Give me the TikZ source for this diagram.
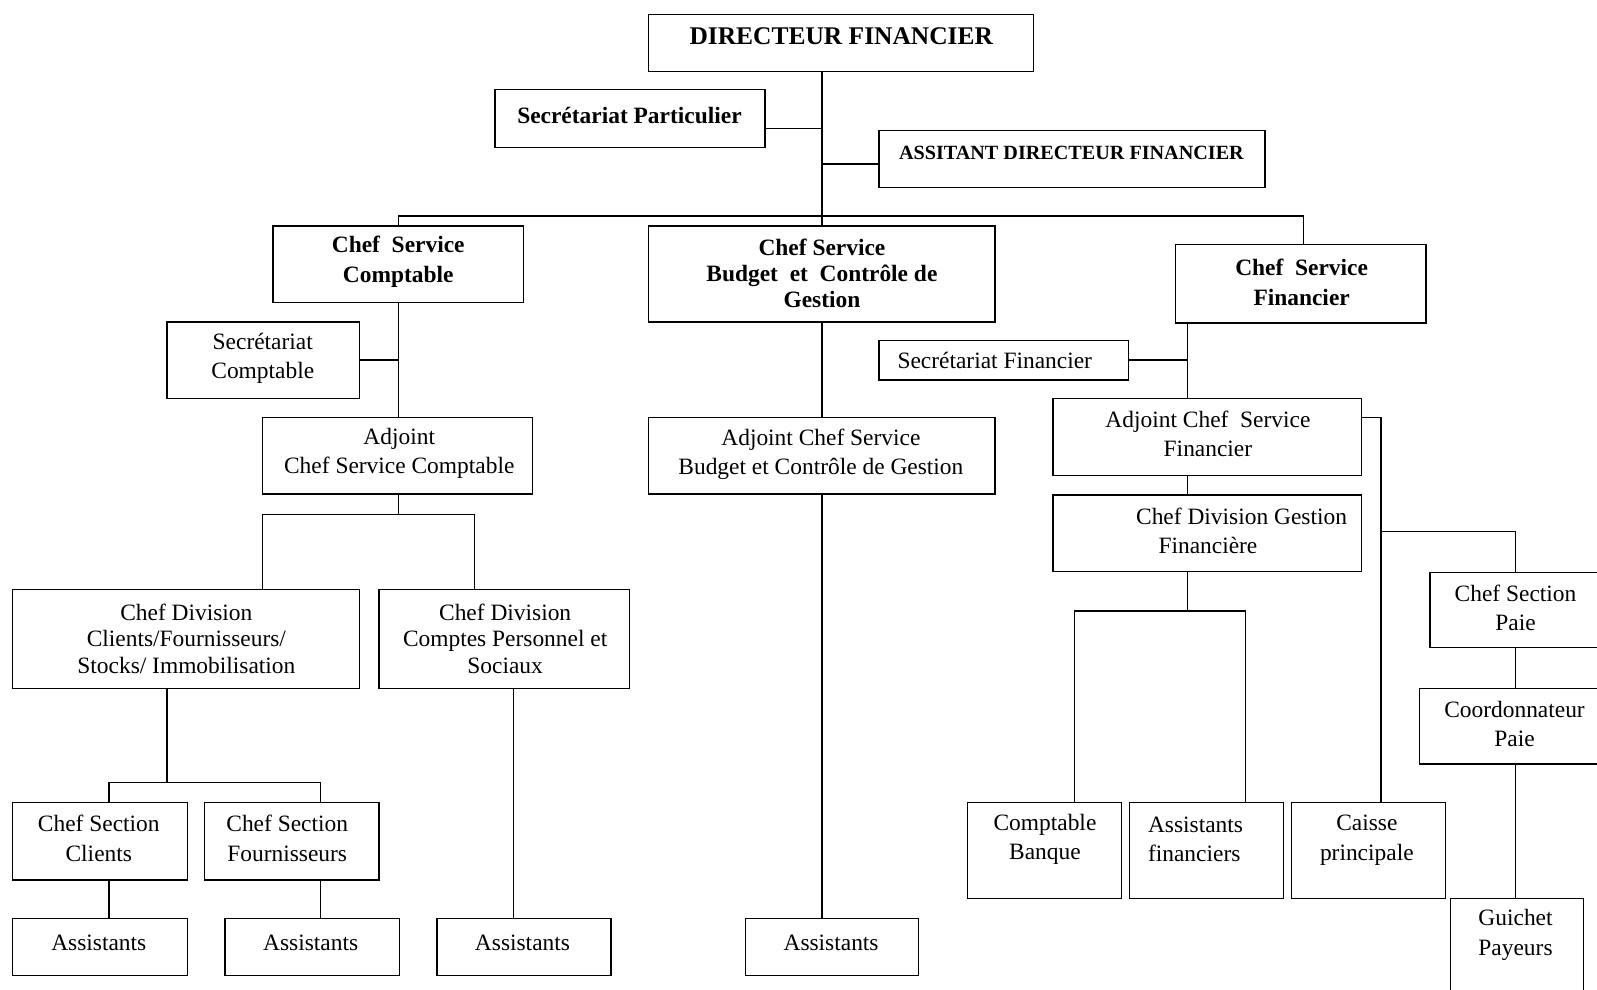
\documentclass[tikz,border=0pt]{standalone}
\usepackage{fontspec}
\setmainfont{Liberation Serif}
\newcommand\obox[5]{\node[box, minimum width={(#4)-(#2)}, minimum height={(#5)-(#3)}] (#1) at ({((#2)+(#4))/2},{((#3)+(#5))/2}) {};}
\begin{document}
\begin{tikzpicture}[x=1pt,y=-1pt,
  box/.style={draw, line width=1.3pt, rectangle, inner sep=0pt, outer sep=0pt},
  txt/.style={inner sep=0pt, align=center, font=\fontsize{23}{29}\selectfont},
  txtc/.style={inner sep=0pt, align=center, font=\fontsize{23}{26}\selectfont},
  btxt/.style={inner sep=0pt, align=center, font=\fontsize{23}{29}\selectfont\bfseries},
  btxtc/.style={inner sep=0pt, align=center, font=\fontsize{23}{25.5}\selectfont\bfseries},
  conn/.style={line width=1.3pt}]
\useasboundingbox (0,0) rectangle (1568,972);
\clip (0,0) rectangle (1568,972);
% boxes
\obox{dir}{637}{14}{1015}{70}
\obox{secp}{486}{88}{751}{145}
\obox{asst}{863}{128}{1242}{184}
\obox{csc}{268}{222}{514}{297}
\obox{csb}{637}{222}{977}{316}
\obox{csf}{1154}{240}{1400}{317}
\obox{secc}{164}{316}{353}{391}
\obox{acc}{258}{410}{523}{485}
\obox{acb}{637}{410}{977}{485}
\obox{secf}{863}{334}{1108}{373}
\obox{acf}{1034}{391}{1337}{467}
\obox{cdg}{1034}{486}{1337}{561}
\obox{cda}{12}{579}{353}{676}
\obox{cdb}{372}{579}{618}{676}
\obox{csa}{12}{788}{184}{864}
\obox{csbb}{201}{788}{372}{864}
\obox{asa}{12}{902}{184}{958}
\obox{asb}{221}{902}{392}{958}
\obox{asc}{429}{902}{600}{958}
\obox{asd}{732}{902}{902}{958}
\obox{cb}{950}{788}{1101}{882}
\obox{af}{1109}{788}{1260}{882}
\obox{cp}{1268}{788}{1419}{882}
\obox{csp}{1404}{562}{1572}{636}
\obox{coo}{1394}{676}{1580}{750}
\obox{gp}{1424}{882}{1555}{1000}
% texts
\node[btxt, font=\fontsize{25}{29}\selectfont\bfseries] (t-dir) at (826,36) {DIRECTEUR FINANCIER};
\node[btxt] (t-secp) at (618,113) {Secrétariat Particulier};
\node[btxt, font=\fontsize{19.8}{24}\selectfont\bfseries] (t-asst) at (1052,150) {ASSITANT DIRECTEUR FINANCIER};
\node[btxt] (t-csc) at (391,257) {Chef~ Service\\Comptable};
\node[btxtc] (t-csb) at (807,268) {Chef Service\\Budget~ et~ Contrôle de\\Gestion};
\node[btxt] (t-csf) at (1278,277) {Chef~ Service\\Financier};
\node[txt] (t-secc) at (258,352) {Secrétariat\\Comptable};
\node[txt] (t-acc) at (392,445) {Adjoint\\Chef Service Comptable};
\node[txt] (t-acb) at (806,446) {Adjoint Chef Service\\Budget et Contrôle de Gestion};
\node[txt, anchor=west] (t-secf) at (881,354) {Secrétariat Financier};
\node[txt] (t-acf) at (1186,426) {Adjoint Chef~ Service\\Financier};
\node[txt] (t-cdg) at (1186,521) {\hspace*{66pt}Chef Division Gestion\\Financière};
\node[txtc] (t-cda) at (183,627) {Chef Division\\Clients/Fournisseurs/\\Stocks/ Immobilisation};
\node[txtc] (t-cdb) at (496,627) {Chef Division\\Comptes Personnel et\\Sociaux};
\node[txt] (t-csa) at (97,823) {Chef Section\\Clients};
\node[txt] (t-csbb) at (282,823) {Chef Section\\Fournisseurs};
\node[txt] (t-asa) at (97,926) {Assistants};
\node[txt] (t-asb) at (305,926) {Assistants};
\node[txt] (t-asc) at (513,926) {Assistants};
\node[txt] (t-asd) at (816,926) {Assistants};
\node[txt] (t-cb) at (1026,824) {Comptable\\Banque};
\node[txt, align=left, anchor=west] (t-af) at (1127,824) {Assistants\\financiers};
\node[txt] (t-cp) at (1342,825) {Caisse\\principale};
\node[txt] (t-csp) at (1488,597) {Chef Section\\Paie};
\node[txt] (t-coo) at (1487,711) {Coordonnateur\\Paie};
\node[txt] (t-gp) at (1488,918) {Guichet\\Payeurs};
% junction coordinates
\coordinate (bT) at (807,212);
\coordinate (bL) at (391,212);
\coordinate (bR) at (1280,212);
\coordinate (jsp) at (807,126);
\coordinate (jas) at (807,161);
\coordinate (jsc) at (391,353.5);
\coordinate (b2) at (391,505);
\coordinate (b2l) at (258,505);
\coordinate (b2r) at (466,505);
\coordinate (b3) at (164,768);
\coordinate (b3l) at (107,768);
\coordinate (b3r) at (315,768);
\coordinate (c2) at (504,700);
\coordinate (r1) at (1166,353.5);
\coordinate (r1b) at (1166,600);
\coordinate (r1l) at (1055,600);
\coordinate (r1r) at (1223,600);
\coordinate (r2) at (1356,410);
\coordinate (r3) at (1356,522);
\coordinate (r3r) at (1488,522);
% connectors
\draw[conn] (bT |- dir.south) -- (bT);
\draw[conn] (jsp -| secp.east) -- (jsp);
\draw[conn] (jas) -- (jas -| asst.west);
\draw[conn] (bL |- csc.north) -- (bL) -- (bR) -- (bR |- csf.north);
\draw[conn] (bT) -- (bT |- csb.north);
\draw[conn] (jsc |- csc.south) -- (jsc |- acc.north);
\draw[conn] (jsc -| secc.east) -- (jsc);
\draw[conn] (b2 |- acc.south) -- (b2);
\draw[conn] (b2l |- cda.north) -- (b2l) -- (b2r) -- (b2r |- cdb.north);
\draw[conn] (b3 |- cda.south) -- (b3);
\draw[conn] (b3l |- csa.north) -- (b3l) -- (b3r) -- (b3r |- csbb.north);
\draw[conn] (b3l |- csa.south) -- (b3l |- asa.north);
\draw[conn] (b3r |- csbb.south) -- (b3r |- asb.north);
\draw[conn] (c2 |- cdb.south) -- (c2 |- asc.north);
\draw[conn] (bT |- csb.south) -- (bT |- acb.north);
\draw[conn] (bT |- acb.south) -- (bT |- asd.north);
\draw[conn] (r1 |- csf.south) -- (r1 |- acf.north);
\draw[conn] (r1 -| secf.east) -- (r1);
\draw[conn] (r1 |- acf.south) -- (r1 |- cdg.north);
\draw[conn] (r1 |- cdg.south) -- (r1b);
\draw[conn] (r1l |- cb.north) -- (r1l) -- (r1r) -- (r1r |- af.north);
\draw[conn] (r2 -| acf.east) -- (r2) -- (r2 |- cp.north);
\draw[conn] (r3) -- (r3r) -- (r3r |- csp.north);
\draw[conn] (r3r |- csp.south) -- (r3r |- coo.north);
\draw[conn] (r3r |- coo.south) -- (r3r |- gp.north);
\end{tikzpicture}
\end{document}
